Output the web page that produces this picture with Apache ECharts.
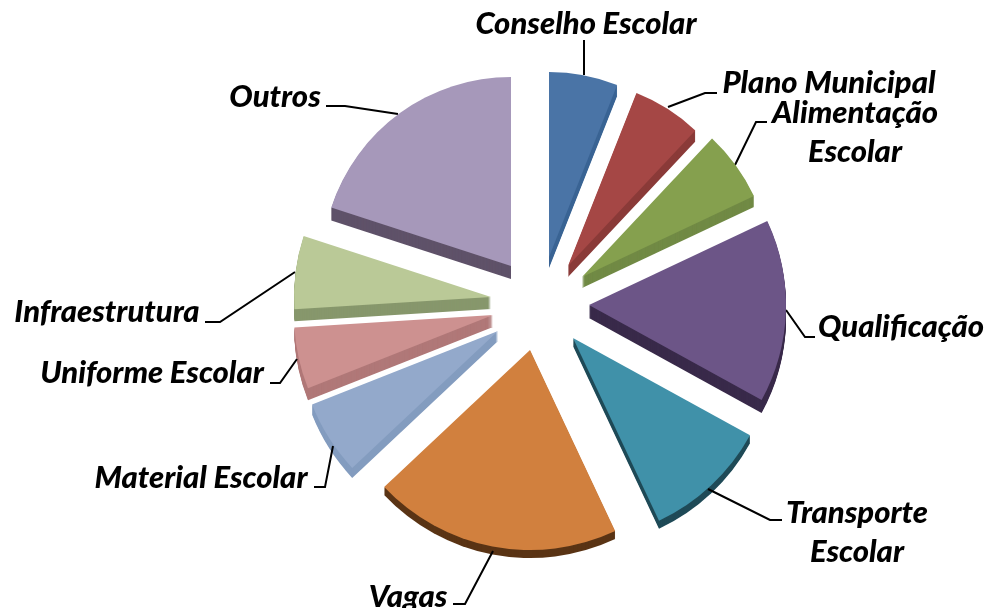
<!DOCTYPE html>
<html>
<head>
<meta charset="utf-8">
<style>html,body{margin:0;padding:0;background:#fff}#main{width:984px;height:608px}</style>
<script src="https://cdn.jsdelivr.net/npm/echarts@6/dist/echarts.min.js"></script>
</head>
<body>
<div id="main"></div>
<script>
var categories = ['Conselho Escolar', 'Plano Municipal', 'Alimentação\nEscolar', 'Qualificação', 'Transporte\nEscolar', 'Vagas', 'Material Escolar', 'Uniforme Escolar', 'Infraestrutura', 'Outros'];
var values = [6, 6, 6, 15, 10, 20, 6, 5, 6, 20];

var topColors = ['#4a74a6', '#a54745', '#85a04e', '#6c5587', '#4091a9', '#d1803e', '#93a9cb', '#cd9190', '#bac997', '#a698ba'];
var sideColors = ['#3a6494', '#8a3a38', '#718a45', '#392a4a', '#1f4a57', '#5a3415', '#839cbf', '#b07878', '#87976c', '#5f5269'];

// where each exploded slice sits, its radius and its side height
var centers = [[549, 257], [568, 266], [582, 277], [589, 305], [573, 338], [530, 350], [498, 331], [493, 315], [491, 297], [511, 266]];
var radii = [185, 186, 190, 197, 202, 200, 200, 199, 197, 189];
var depths = [11, 11, 11, 13, 8, 8, 10, 12, 12, 13];

var labelSpots = [[586, 24], [829, 83], [855, 132], [901, 327], [857, 532], [408, 597], [201, 478], [152, 373], [107, 312], [275, 97]];
var leaders = [
  [[584, 75], [584, 50], [584, 40]],
  [[668, 107], [705, 93], [717, 93]],
  [[735, 165], [756, 122], [767, 122]],
  [[786, 310], [805, 337], [815, 337]],
  [[708, 489], [770, 520], [782, 520]],
  [[493, 551], [465, 604], [453, 604]],
  [[333, 446], [325, 487], [314, 487]],
  [[297, 359], [280, 383], [270, 383]],
  [[295, 272], [220, 322], [205, 322]],
  [[398, 114], [345, 106], [326, 106]]
];

var total = 100;
var series = [];

function slicePie(i, dy, color, z) {
  var before = 0;
  for (var k = 0; k < i; k++) before += values[k];
  return {
    type: 'pie',
    silent: true,
    animation: false,
    avoidLabelOverlap: false,
    z: z,
    center: [centers[i][0], centers[i][1] + dy],
    radius: [0, radii[i]],
    startAngle: 90 - before / total * 360,
    label: { show: false },
    labelLine: { show: false },
    data: [
      { name: categories[i], value: values[i], itemStyle: { color: color } },
      { name: '', value: total - values[i], itemStyle: { color: 'transparent' } }
    ]
  };
}

// sides first, stacked one pixel at a time so the corners join up
categories.forEach(function (c, i) {
  for (var d = depths[i]; d > 0; d -= 1) {
    series.push(slicePie(i, d, sideColors[i], 1));
  }
});

categories.forEach(function (c, i) {
  var s = slicePie(i, 0, topColors[i], 2);
  s.data[0].label = {
    show: true,
    formatter: '{b}',
    color: '#000',
    fontFamily: 'Lato',
    fontStyle: 'italic',
    fontWeight: 900,
    fontSize: 31,
    lineHeight: 39
  };
  s.data[0].labelLine = { show: true, lineStyle: { color: '#000', width: 2 } };
  s.labelLayout = function () {
    return {
      x: labelSpots[i][0],
      y: labelSpots[i][1],
      align: 'center',
      verticalAlign: 'middle',
      labelLinePoints: leaders[i]
    };
  };
  series.push(s);
});

var chart = echarts.init(document.getElementById('main'));
chart.setOption({
  backgroundColor: '#fff',
  animation: false,
  tooltip: { show: false },
  series: series
});
</script>
</body>
</html>
